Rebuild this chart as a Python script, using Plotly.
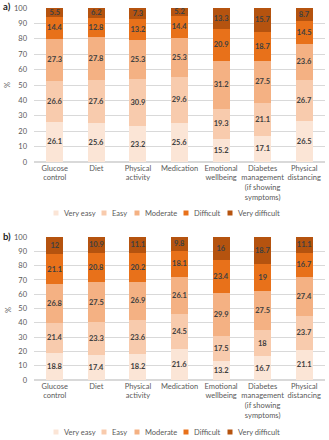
import plotly.graph_objects as go

categories = ["Glucose<br>control", "Diet", "Physical<br>activity", "Medication",
              "Emotional<br>wellbeing", "Diabetes<br>management<br>(if showing<br>symptoms)",
              "Physical<br>distancing"]
levels = ["Very easy", "Easy", "Moderate", "Difficult", "Very difficult"]
colors = ["#FBE5D6", "#F8CBAD", "#F4B183", "#E8711A", "#B5530F"]

a_very_easy = [26.1, 25.6, 23.2, 25.6, 15.2, 17.1, 26.5]
a_easy = [26.6, 27.6, 30.9, 29.6, 19.3, 21.1, 26.7]
a_moderate = [27.3, 27.8, 25.3, 25.3, 31.2, 27.5, 23.6]
a_difficult = [14.4, 12.8, 13.2, 14.4, 20.9, 18.7, 14.5]
a_very_difficult = [5.5, 6.2, 7.3, 5.2, 13.3, 15.7, 8.7]

b_very_easy = [18.8, 17.4, 18.2, 21.6, 13.2, 16.7, 21.1]
b_easy = [21.4, 23.3, 23.6, 24.5, 17.5, 18, 23.7]
b_moderate = [26.8, 27.5, 26.9, 26.1, 29.9, 27.5, 27.4]
b_difficult = [21.1, 20.8, 20.2, 18.1, 23.4, 19, 16.7]
b_very_difficult = [12, 10.9, 11.1, 9.8, 16, 18.7, 11.1]

y_ticks = list(range(0, 101, 10))

W, H = 329, 440
FONT = "Lato"
GRAY = "#595959"

panels = [
    ("a)", [a_very_easy, a_easy, a_moderate, a_difficult, a_very_difficult], "x", "y"),
    ("b)", [b_very_easy, b_easy, b_moderate, b_difficult, b_very_difficult], "x2", "y2"),
]

fig = go.Figure()
for label, series, xa, ya in panels:
    for name, vals, col in zip(levels, series, colors):
        fig.add_trace(go.Bar(
            x=categories, y=vals, name=name, marker=dict(color=col, line=dict(width=0)),
            text=[f"{v:g}" for v in vals], textposition="inside", insidetextanchor="middle",
            textangle=0, constraintext="none",
            textfont=dict(family=FONT, size=7.5, color="#404040", weight="bold"),
            xaxis=xa, yaxis=ya, showlegend=False,
        ))

def px_y(p):
    return 1 - p / H

def px_x(p):
    return p / W

xdom = [px_x(34), px_x(325)]
axis_common_x = dict(domain=xdom, tickfont=dict(family=FONT, size=7.5, color=GRAY),
                     showline=False, ticks="", showgrid=False, fixedrange=True,
                     range=[-0.5, 6.5])
axis_common_y = dict(range=[0, 100], tickvals=y_ticks, showgrid=True, gridcolor="#D9D9D9",
                     gridwidth=1, zeroline=True, zerolinecolor="#D9D9D9", showline=False,
                     tickfont=dict(family=FONT, size=7.5, color=GRAY), ticks="",
                     ticklabelstandoff=6)

fig.update_layout(
    width=W, height=H, margin=dict(l=0, r=0, t=0, b=0, autoexpand=False),
    paper_bgcolor="white", plot_bgcolor="white", barmode="stack", bargap=0.59,
    font=dict(family=FONT, color=GRAY),
    xaxis=dict(**axis_common_x, anchor="y"),
    yaxis=dict(**axis_common_y, domain=[px_y(162), px_y(8)], anchor="x"),
    xaxis2=dict(**axis_common_x, anchor="y2"),
    yaxis2=dict(**axis_common_y, domain=[px_y(380), px_y(237)], anchor="x2"),
)

annotations = []
shapes = []
text_w = {"Very easy": 30, "Easy": 15, "Moderate": 31, "Difficult": 26, "Very difficult": 40}
marker_sz = 5
gap_mt = 3
gap_items = 10
total = sum(marker_sz + gap_mt + text_w[l] for l in levels) + gap_items * (len(levels) - 1)
for label, ytitle, ylab, yleg in [("a)", 85, 7, 213), ("b)", 310, 236, 432)]:
    annotations.append(dict(text="<b>" + label + "</b>", x=px_x(1), y=px_y(ylab), xref="paper",
                            yref="paper", xanchor="left", yanchor="middle", showarrow=False,
                            font=dict(family=FONT, size=9.5, color="#222222")))
    annotations.append(dict(text="%", x=px_x(8), y=px_y(ytitle), xref="paper", yref="paper",
                            xanchor="center", yanchor="middle", showarrow=False, textangle=-90,
                            font=dict(family=FONT, size=7.5, color=GRAY)))
    cx = 164.5 - total / 2
    for lv, col in zip(levels, colors):
        shapes.append(dict(type="rect", xref="paper", yref="paper",
                           x0=px_x(cx), x1=px_x(cx + marker_sz),
                           y0=px_y(yleg + marker_sz / 2), y1=px_y(yleg - marker_sz / 2),
                           fillcolor=col, line=dict(width=0)))
        annotations.append(dict(text=lv, x=px_x(cx + marker_sz + gap_mt), y=px_y(yleg),
                                xref="paper", yref="paper", xanchor="left", yanchor="middle",
                                showarrow=False, font=dict(family=FONT, size=7.5, color=GRAY)))
        cx += marker_sz + gap_mt + text_w[lv] + gap_items

fig.update_layout(annotations=annotations, shapes=shapes)

fig.write_html("out.html", config={"displayModeBar": False},
               post_script="document.body.style.margin='0';document.body.style.padding='0';")
